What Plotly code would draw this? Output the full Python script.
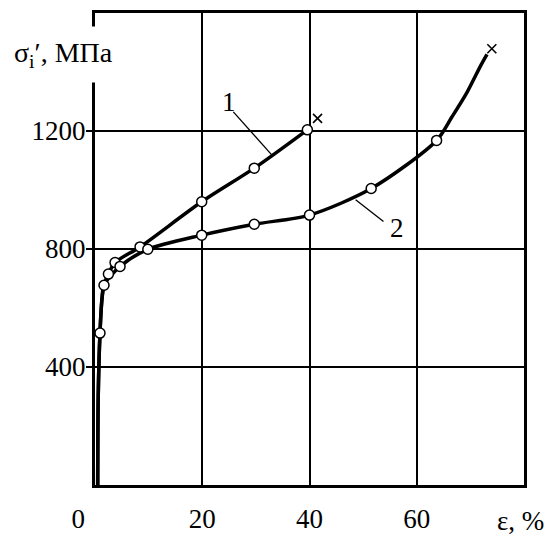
import plotly.graph_objects as go

# ---- data ----
# curve 1 path and its circle markers
c1_path_x = [0.5, 0.6, 0.93, 1.3, 1.68, 2.5, 3.74, 8.4, 19.9, 29.7, 39.6]
c1_path_y = [0, 300, 515, 630, 677, 715, 754, 807, 960, 1074, 1204]
c1_pts_x = [2.5, 3.74, 8.4, 19.9, 29.7, 39.6]
c1_pts_y = [715, 754, 807, 960, 1074, 1204]
c1_end_x = [41.5]
c1_end_y = [1243]

# curve 2 path and its circle markers
c2_path_x = [0.5, 0.6, 0.93, 1.3, 1.68, 4.67, 9.85, 19.9, 29.7, 40.0, 51.5, 63.7, 66.6, 69.4, 71.9, 73.1]
c2_path_y = [0, 300, 515, 630, 677, 741, 799, 847, 884, 915, 1005, 1168, 1249, 1332, 1421, 1460]
c2_pts_x = [4.67, 9.85, 19.9, 29.7, 40.0, 51.5, 63.7]
c2_pts_y = [741, 799, 847, 884, 915, 1005, 1168]
c2_end_x = [74.0]
c2_end_y = [1479]

# shared points on the common initial part
common_pts_x = [0.93, 1.68]
common_pts_y = [515, 677]

x_tick_vals = [0, 20, 40, 60]
x_tick_text = ["0" + "\u00a0" * 5, "20", "40", "60"]
y_tick_vals = [400, 800, 1200]
y_tick_text = ["400", "800", "1200"]

FONT = "Liberation Serif"
FS = 27
LW = 3.5

fig = go.Figure()
for px_, py_ in [(c1_path_x, c1_path_y), (c2_path_x, c2_path_y)]:
    fig.add_trace(go.Scatter(x=px_, y=py_, mode="lines",
                             line=dict(color="black", width=LW, shape="spline", smoothing=0.8),
                             hoverinfo="skip", showlegend=False))

all_x = c1_pts_x + c2_pts_x + common_pts_x
all_y = c1_pts_y + c2_pts_y + common_pts_y
fig.add_trace(go.Scatter(x=all_x, y=all_y, mode="markers",
                         marker=dict(symbol="circle", size=10, color="white",
                                     line=dict(color="black", width=1.5)),
                         showlegend=False))
fig.add_trace(go.Scatter(x=c1_end_x + c2_end_x, y=c1_end_y + c2_end_y, mode="markers",
                         marker=dict(symbol="x-thin", size=9,
                                     line=dict(color="black", width=1.6)),
                         showlegend=False))

# curve labels with leader lines
fig.add_shape(type="line", x0=25.8, y0=1265, x1=33.0, y1=1118,
              line=dict(color="black", width=1.3))
fig.add_shape(type="line", x0=48.6, y0=967, x1=53.8, y1=893,
              line=dict(color="black", width=1.3))
fig.add_annotation(x=24.9, y=1300, text="1", showarrow=False,
                   font=dict(family=FONT, size=FS, color="black"))
fig.add_annotation(x=56.3, y=872, text="2", showarrow=False,
                   font=dict(family=FONT, size=FS, color="black"))

# axis titles
fig.add_annotation(xref="paper", yref="paper", x=(3 - 95) / 429, y=(493 - 52) / 483,
                   xanchor="left", yanchor="middle",
                   text="σ<sub>i</sub>′, МПа", showarrow=False,
                   bgcolor="white", borderpad=10,
                   font=dict(family=FONT, size=FS + 1, color="black"))
fig.add_annotation(xref="paper", yref="paper", x=(546 - 95) / 429, y=(493 - 530) / 483,
                   xanchor="right", yanchor="middle",
                   text="ε, %", showarrow=False,
                   font=dict(family=FONT, size=FS, color="black"))

fig.update_xaxes(range=[0, 80], tickvals=x_tick_vals, ticktext=x_tick_text,
                 showgrid=True, gridcolor="black", gridwidth=1.5,
                 showline=True, linecolor="black", linewidth=3, mirror=True,
                 zeroline=False, ticks="", ticklabelstandoff=8,
                 tickfont=dict(family=FONT, size=FS, color="black"))
fig.update_yaxes(range=[0, 1600], tickvals=y_tick_vals, ticktext=y_tick_text,
                 showgrid=True, gridcolor="black", gridwidth=1.5,
                 showline=True, linecolor="black", linewidth=3, mirror=True,
                 zeroline=False, ticks="outside", ticklen=6, tickwidth=1.5, tickcolor="black",
                 ticklabelstandoff=-5,
                 tickfont=dict(family=FONT, size=FS, color="black"))

fig.update_layout(width=547, height=544,
                  margin=dict(l=95, r=23, t=10, b=51),
                  paper_bgcolor="white", plot_bgcolor="white",
                  font=dict(family=FONT, color="black"))

fig.write_html("out.html", config={"displayModeBar": False},
               post_script="document.body.style.margin='0';")
